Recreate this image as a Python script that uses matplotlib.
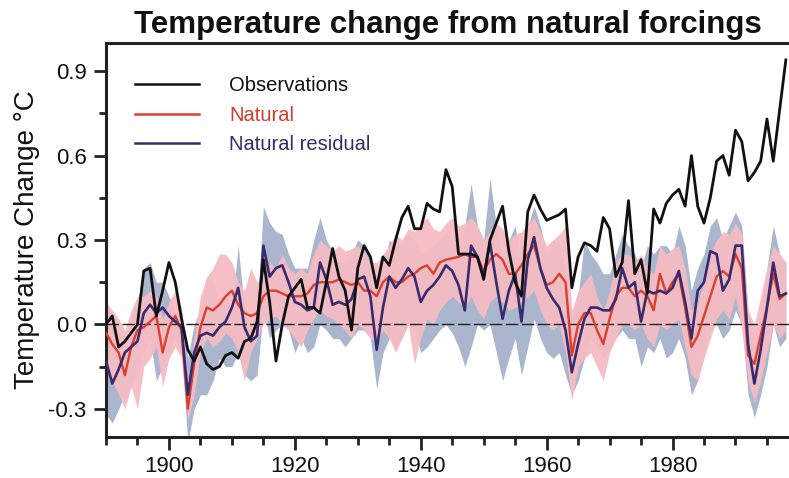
import matplotlib
matplotlib.use("Agg")
import matplotlib.pyplot as plt
from matplotlib.ticker import MultipleLocator
import numpy as np

years = list(range(1890, 1999))

observations = [
    0.00, 0.03, -0.08, -0.06, -0.03, 0.00, 0.19, 0.20, 0.03, 0.12,   # 1890-1899
    0.22, 0.15, 0.02, -0.09, -0.13, -0.08, -0.14, -0.16, -0.15, -0.11,  # 1900-1909
    -0.10, -0.12, -0.06, -0.05, 0.01, 0.23, 0.08, -0.13, 0.00, 0.10,  # 1910-1919
    0.13, 0.16, 0.06, 0.06, 0.04, 0.15, 0.27, 0.17, 0.12, -0.02,     # 1920-1929
    0.20, 0.28, 0.24, 0.13, 0.24, 0.21, 0.30, 0.38, 0.42, 0.34,      # 1930-1939
    0.34, 0.43, 0.41, 0.40, 0.55, 0.49, 0.25, 0.25, 0.25, 0.24,      # 1940-1949
    0.16, 0.30, 0.36, 0.42, 0.26, 0.15, 0.10, 0.40, 0.46, 0.41,      # 1950-1959
    0.37, 0.38, 0.39, 0.41, 0.13, 0.24, 0.29, 0.28, 0.26, 0.38,      # 1960-1969
    0.34, 0.17, 0.22, 0.44, 0.18, 0.23, 0.11, 0.41, 0.36, 0.43,      # 1970-1979
    0.46, 0.48, 0.42, 0.60, 0.42, 0.36, 0.45, 0.58, 0.60, 0.53,      # 1980-1989
    0.69, 0.65, 0.51, 0.54, 0.58, 0.73, 0.58, 0.76, 0.94,            # 1990-1998
]

natural = [
    -0.03, -0.07, -0.10, -0.18, -0.08, -0.02, -0.01, 0.01, 0.03, -0.10,
    -0.01, 0.03, -0.02, -0.30, -0.14, -0.01, 0.06, 0.05, 0.07, 0.10,
    0.12, 0.07, 0.04, 0.03, 0.04, 0.10, 0.12, 0.12, 0.11, 0.10,
    0.10, 0.10, 0.11, 0.14, 0.15, 0.15, 0.15, 0.16, 0.15, 0.14,
    0.15, 0.12, 0.12, 0.10, 0.15, 0.17, 0.15, 0.15, 0.17, 0.18,
    0.20, 0.21, 0.18, 0.22, 0.23, 0.235, 0.24, 0.25, 0.24, 0.24,
    0.19, 0.23, 0.25, 0.23, 0.18, 0.18, 0.21, 0.25, 0.28, 0.20,
    0.14, 0.15, 0.18, 0.15, -0.11, 0.00, 0.04, 0.04, -0.02, -0.07,
    0.02, 0.10, 0.13, 0.13, 0.10, 0.12, 0.10, 0.05, 0.18, 0.11,
    0.15, 0.18, 0.06, -0.08, -0.04, 0.03, 0.10, 0.17, 0.19, 0.17,
    0.25, 0.20, -0.11, -0.14, -0.04, 0.06, 0.18, 0.09, 0.11,
]

natural_residual = [
    -0.13, -0.21, -0.16, -0.10, -0.08, -0.06, 0.04, 0.07, 0.04, 0.06,
    0.03, 0.01, -0.01, -0.25, -0.10, -0.04, -0.03, -0.04, -0.01, 0.01,
    0.06, 0.13, -0.01, -0.06, -0.04, 0.28, 0.17, 0.20, 0.21, 0.15,
    0.08, 0.07, 0.05, 0.06, 0.22, 0.16, 0.07, 0.08, 0.07, 0.09,
    0.16, 0.17, 0.10, -0.09, 0.06, 0.17, 0.13, 0.16, 0.20, 0.17,
    0.08, 0.12, 0.14, 0.17, 0.21, 0.19, 0.14, 0.05, 0.28, 0.24,
    0.17, 0.29, 0.15, 0.02, 0.12, 0.18, 0.01, 0.23, 0.31, 0.20,
    0.13, 0.09, 0.06, -0.02, -0.17, -0.07, 0.02, 0.06, 0.06, 0.05,
    0.05, 0.09, 0.20, 0.13, 0.15, 0.01, 0.12, 0.11, 0.12, 0.11,
    0.13, 0.19, 0.08, -0.05, 0.12, 0.15, 0.26, 0.25, 0.12, 0.16,
    0.28, 0.28, -0.07, -0.21, -0.09, 0.06, 0.22, 0.10, 0.11,
]

natural_upper = [
    0.08, 0.05, 0.02, -0.02, 0.05, 0.10, 0.10, 0.12, 0.10, 0.02,
    0.08, 0.12, 0.06, -0.20, -0.05, 0.10, 0.17, 0.20, 0.25, 0.25,
    0.22, 0.15, 0.12, 0.20, 0.15, 0.18, 0.22, 0.20, 0.25, 0.20,
    0.18, 0.20, 0.18, 0.25, 0.30, 0.28, 0.26, 0.28, 0.26, 0.27,
    0.28, 0.26, 0.22, 0.22, 0.25, 0.28, 0.32, 0.30, 0.34, 0.33,
    0.36, 0.38, 0.34, 0.33, 0.36, 0.38, 0.35, 0.36, 0.38, 0.35,
    0.30, 0.33, 0.36, 0.34, 0.30, 0.32, 0.33, 0.36, 0.38, 0.33,
    0.28, 0.30, 0.32, 0.35, 0.05, 0.12, 0.15, 0.18, 0.10, 0.05,
    0.12, 0.22, 0.25, 0.25, 0.22, 0.25, 0.20, 0.18, 0.28, 0.25,
    0.27, 0.28, 0.20, 0.05, 0.08, 0.15, 0.25, 0.30, 0.33, 0.32,
    0.36, 0.32, 0.05, 0.00, 0.10, 0.20, 0.28, 0.25, 0.22,
]

natural_lower = [
    -0.15, -0.20, -0.25, -0.30, -0.22, -0.30, -0.15, -0.12, -0.08, -0.22,
    -0.12, -0.08, -0.12, -0.34, -0.25, -0.10, -0.05, -0.08, -0.06, -0.03,
    -0.05, -0.10, -0.20, -0.10, -0.05, 0.00, 0.02, 0.03, 0.00, -0.02,
    -0.05, -0.08, -0.02, 0.02, 0.05, 0.03, 0.02, 0.00, -0.02, -0.05,
    0.00, -0.02, -0.05, -0.06, -0.02, -0.05, -0.10, -0.05, 0.00, -0.14,
    -0.05, 0.02, 0.00, 0.05, 0.08, 0.10, 0.08, 0.06, 0.10, 0.05,
    0.02, 0.08, 0.10, 0.08, 0.05, 0.06, 0.08, 0.10, 0.12, 0.05,
    0.00, -0.02, 0.00, -0.10, -0.27, -0.15, -0.12, -0.10, -0.15, -0.20,
    -0.10, -0.05, 0.00, 0.00, -0.02, 0.00, -0.05, -0.08, 0.00, -0.02,
    0.00, 0.02, -0.08, -0.18, -0.20, -0.12, -0.05, 0.02, 0.05, 0.02,
    0.10, -0.02, -0.20, -0.28, -0.20, -0.10, 0.00, -0.05, -0.02,
]

residual_upper = [
    0.00, 0.00, 0.00, -0.05, 0.02, 0.08, 0.20, 0.22, 0.15, 0.15,
    0.10, 0.05, 0.05, -0.12, 0.00, 0.05, 0.17, 0.15, 0.08, 0.10,
    0.05, 0.28, 0.05, 0.00, 0.05, 0.42, 0.36, 0.33, 0.32, 0.25,
    0.20, 0.20, 0.20, 0.30, 0.38, 0.30, 0.26, 0.22, 0.22, 0.25,
    0.30, 0.28, 0.25, 0.15, 0.20, 0.30, 0.28, 0.30, 0.32, 0.30,
    0.25, 0.26, 0.28, 0.30, 0.33, 0.30, 0.30, 0.35, 0.50, 0.35,
    0.30, 0.52, 0.35, 0.22, 0.30, 0.35, 0.20, 0.35, 0.42, 0.35,
    0.25, 0.30, 0.28, 0.20, 0.02, 0.10, 0.30, 0.25, 0.22, 0.18,
    0.18, 0.25, 0.32, 0.28, 0.25, 0.20, 0.28, 0.25, 0.28, 0.28,
    0.25, 0.35, 0.28, 0.12, 0.20, 0.25, 0.35, 0.38, 0.30, 0.35,
    0.40, 0.35, 0.05, -0.05, 0.05, 0.20, 0.35, 0.25, 0.22,
]

residual_lower = [
    -0.32, -0.35, -0.30, -0.25, -0.22, -0.18, -0.10, -0.05, -0.20, -0.15,
    -0.10, -0.05, -0.10, -0.42, -0.30, -0.25, -0.25, -0.20, -0.12, -0.15,
    -0.15, -0.10, -0.18, -0.20, -0.18, 0.05, -0.05, -0.02, 0.00, -0.02,
    -0.10, -0.05, -0.10, -0.08, 0.00, -0.02, -0.05, -0.05, -0.08, -0.05,
    -0.02, -0.02, -0.05, -0.23, -0.10, -0.05, -0.08, -0.05, 0.00, -0.02,
    -0.10, -0.08, -0.05, -0.02, 0.00, -0.03, -0.08, -0.15, -0.08, 0.00,
    -0.02, 0.00, -0.10, -0.20, -0.12, -0.05, -0.18, -0.08, 0.02, -0.05,
    -0.10, -0.12, -0.10, -0.18, -0.25, -0.20, -0.12, -0.05, -0.08, -0.12,
    -0.08, -0.05, -0.02, -0.05, -0.05, -0.15, -0.08, -0.10, -0.05, -0.12,
    -0.10, -0.05, -0.12, -0.25, -0.20, -0.10, -0.02, 0.00, -0.05, -0.02,
    0.05, 0.00, -0.25, -0.33, -0.25, -0.15, 0.00, -0.08, -0.05,
]

series_labels = ["Observations", "Natural", "Natural residual"]
series_colors = ["#111111", "#d9412f", "#3a2a6e"]
label_colors = ["#111111", "#d63a2c", "#2e2e70"]
title_text = "Temperature change from natural forcings"
ylabel_text = "Temperature Change \u00b0C"
xticks = [1900, 1920, 1940, 1960, 1980]
yticks = [-0.3, 0.0, 0.3, 0.6, 0.9]

plt.rcParams['font.family'] = ['Liberation Sans', 'DejaVu Sans']

fig = plt.figure(figsize=(7.89, 4.78), dpi=100)
ax = fig.add_axes([106 / 789, 1 - 437 / 478, 1 - 106 / 789, (437 - 43) / 478])

ax.fill_between(years, residual_lower, residual_upper, color="#a9b6ce", lw=0, zorder=1)
ax.fill_between(years, natural_lower, natural_upper, color="#f5bcc2", alpha=0.95, lw=0, zorder=2)
ax.axhline(0, color="#222222", lw=1.0, dashes=(9, 2.5), zorder=3)

ax.plot(years, natural, color=series_colors[1], lw=1.7, zorder=4, label=series_labels[1])
ax.plot(years, natural_residual, color=series_colors[2], lw=1.9, zorder=5, label=series_labels[2])
ax.plot(years, observations, color=series_colors[0], lw=2.0, zorder=6, label=series_labels[0])

ax.set_xlim(1890, 1998.5)
ax.set_ylim(-0.4, 1.0)
ax.set_xticks(xticks)
ax.set_yticks(yticks)
ax.set_yticklabels([f"{t:.1f}" for t in yticks])
ax.xaxis.set_minor_locator(MultipleLocator(5))
ax.yaxis.set_minor_locator(MultipleLocator(0.15))
ax.tick_params(axis="both", which="major", direction="out", length=9, width=2,
               labelsize=16, colors="#222222", pad=5)
ax.tick_params(axis="both", which="minor", direction="out", length=6, width=2,
               colors="#222222")
ax.tick_params(axis="y", which="minor", length=5)
for lab in ax.get_xticklabels() + ax.get_yticklabels():
    lab.set_color("#111111")

ax.spines["right"].set_visible(False)
for s in ["left", "bottom", "top"]:
    ax.spines[s].set_linewidth(2.2)
    ax.spines[s].set_color("#222222")

ax.set_ylabel(ylabel_text, fontsize=20, color="#111111", labelpad=6)
ax.set_title(title_text, fontsize=22.5, fontweight="bold", color="#111111", pad=7)

handles, labels = ax.get_legend_handles_labels()
order = [labels.index(l) for l in series_labels]
leg = ax.legend([handles[i] for i in order], [labels[i] for i in order],
                loc="upper left", bbox_to_anchor=(0.042, 0.917), frameon=False,
                fontsize=14.5, handlelength=3.2, handletextpad=1.5,
                labelspacing=0.54, borderpad=0, borderaxespad=0)
for txt, c in zip(leg.get_texts(), label_colors):
    txt.set_color(c)
for line in leg.get_lines():
    line.set_linewidth(1.8)

fig.savefig("out.png", dpi=100, facecolor="white")
